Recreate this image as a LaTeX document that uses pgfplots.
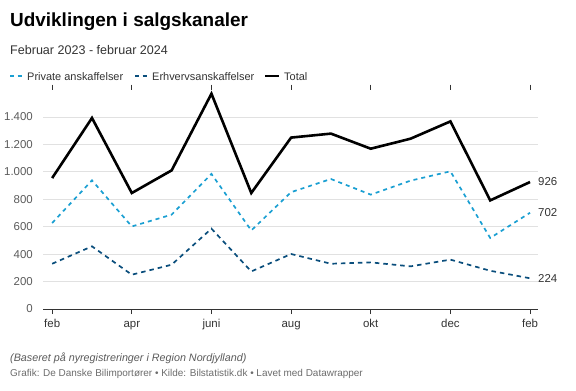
\documentclass[border=0pt]{standalone}
\usepackage{fontspec}
\setmainfont{Liberation Sans}
\usepackage{pgfplots}
\pgfplotsset{compat=1.18}
\definecolor{priv}{HTML}{1A9FD2}
\definecolor{erhv}{HTML}{0A4E7C}
\definecolor{gridc}{HTML}{E1E1E1}
\definecolor{tickc}{HTML}{5A5A5A}
\definecolor{axc}{HTML}{333333}
\begin{document}
\begin{tikzpicture}[x=1bp,y=1bp]
\path[use as bounding box] (0,0) rectangle (576,390);
\node[anchor=base west,inner sep=0pt,font=\bfseries\fontsize{19}{21}\selectfont] at (10,390-26.5) {Udviklingen i salgskanaler};
\node[anchor=base west,inner sep=0pt,text=axc,font=\fontsize{12.6}{14}\selectfont] at (10,390-54) {Februar 2023 - februar 2024};
% legend
\draw[priv,line width=1.6bp,dash pattern=on 4bp off 3.5bp] (10,390-76) -- (23,390-76);
\node[anchor=base west,inner sep=0pt,text=axc,font=\fontsize{11}{13}\selectfont] at (27,390-80) {Private anskaffelser};
\draw[erhv,line width=1.6bp,dash pattern=on 4bp off 3.5bp] (135,390-76) -- (148,390-76);
\node[anchor=base west,inner sep=0pt,text=axc,font=\fontsize{11}{13}\selectfont] at (152,390-80) {Erhvervsanskaffelser};
\draw[black,line width=2.6bp] (265,390-76) -- (279,390-76);
\node[anchor=base west,inner sep=0pt,text=axc,font=\fontsize{11}{13}\selectfont] at (284,390-80) {Total};
% footnotes
\node[anchor=base west,inner sep=0pt,text=tickc,font=\itshape\fontsize{10.8}{13}\selectfont] at (10,390-361.5) {(Baseret på nyregistreringer i Region Nordjylland)};
\node[anchor=base west,inner sep=0pt,text=gray!85!black,font=\fontsize{10}{12}\selectfont] at (10,390-376.5) {Grafik: De Danske Bilimportører • Kilde: Bilstatistik.dk • Lavet med Datawrapper};
\begin{axis}[
  at={(43bp,81bp)}, anchor=south west,
  scale only axis, width=495bp, height=219.4bp,
  xmin=-0.23, xmax=12.2, ymin=0, ymax=1600,
  axis line style={draw=none},
  ymajorgrids, grid style={gridc, line width=0.9bp},
  ytick={0,200,400,600,800,1000,1200,1400},
  xtick={0,2,4,6,8,10,12},
  xticklabels={feb,apr,juni,aug,okt,dec,feb},
  /pgf/number format/assume math mode=true,
  /pgf/number format/.cd, 1000 sep={.}, /pgfplots/.cd,
  ytick style={draw=none},
  xtick style={axc, line width=0.9bp},
  major tick length=5bp, tick align=outside,
  yticklabel style={text=tickc, font=\fontsize{11.5}{13}\selectfont, anchor=east, inner sep=0pt, xshift=-5bp},
  xticklabel style={text=axc, font=\fontsize{11.5}{13}\selectfont, anchor=base, inner sep=0pt, yshift=-13bp},
  clip=false,
]
\draw[axc, line width=1bp] (rel axis cs:0,0) -- (rel axis cs:1,0);
\addplot[priv, line width=1.7bp, dash pattern=on 4bp off 4bp] coordinates {
(0,627) (1,938) (2,602) (3,688) (4,985) (5,573) (6,852) (7,948) (8,834) (9,936) (10,1004) (11,518) (12,702)};
\addplot[erhv, line width=1.7bp, dash pattern=on 4.5bp off 4bp] coordinates {
(0,330) (1,457) (2,250) (3,323) (4,586) (5,274) (6,401) (7,330) (8,340) (9,311) (10,360) (11,279) (12,224)};
\addplot[black, line width=2.6bp] coordinates {
(0,955) (1,1393) (2,846) (3,1011) (4,1570) (5,846) (6,1250) (7,1279) (8,1169) (9,1242) (10,1368) (11,792) (12,926)};
\node[anchor=west, text=axc, font=\fontsize{11.5}{13}\selectfont, inner sep=0pt] at (axis cs:12,926) [xshift=8bp] {926};
\node[anchor=west, text=axc, font=\fontsize{11.5}{13}\selectfont, inner sep=0pt] at (axis cs:12,702) [xshift=8bp] {702};
\node[anchor=west, text=axc, font=\fontsize{11.5}{13}\selectfont, inner sep=0pt] at (axis cs:12,224) [xshift=8bp] {224};
\end{axis}
\end{tikzpicture}
\end{document}
